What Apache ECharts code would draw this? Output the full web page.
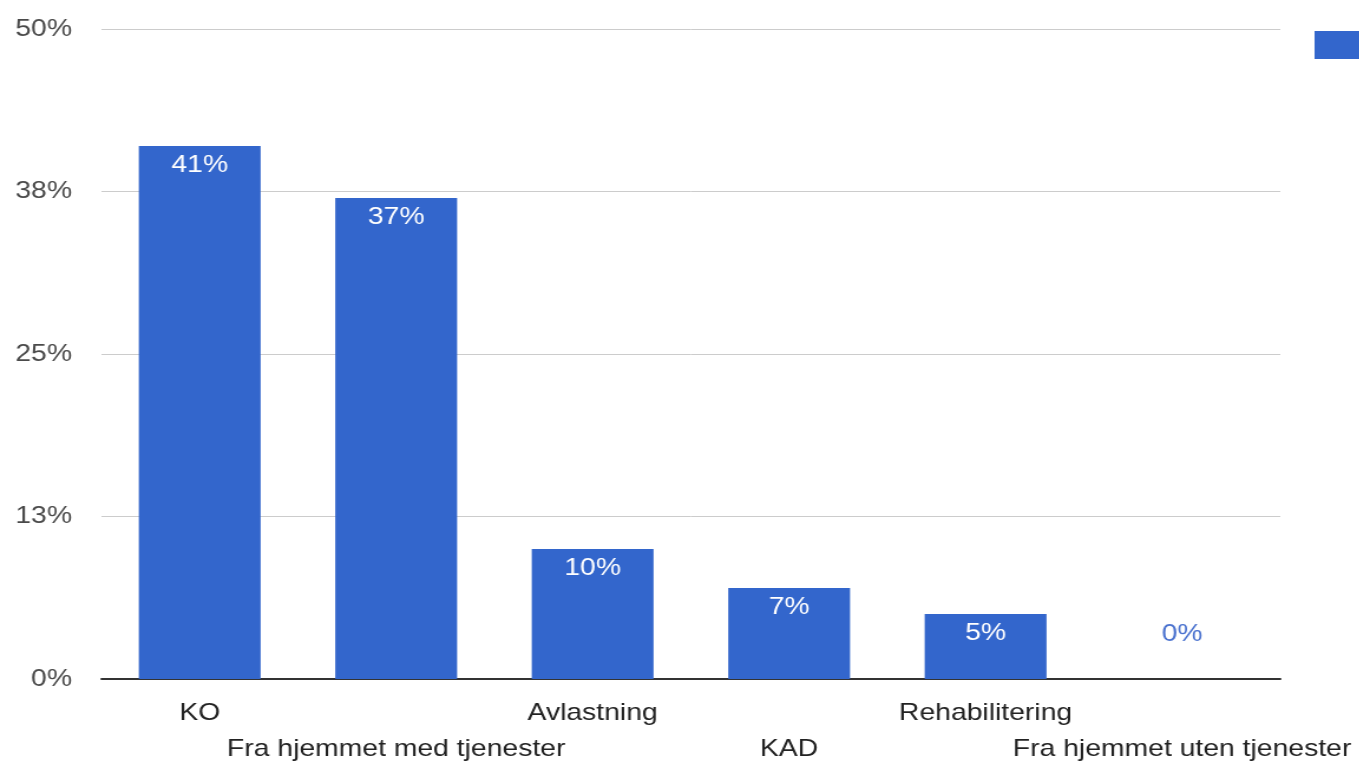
<!DOCTYPE html>
<html>
<head>
<meta charset="utf-8">
<style>
  html, body { margin: 0; padding: 0; background: #fff; overflow: hidden; }
  /* the chart is laid out narrower and widened to the full page width */
  #chart { width: 1152px; height: 766px; transform: scaleX(1.18); transform-origin: 0 0; }
</style>
<script src="https://cdn.jsdelivr.net/npm/echarts@6/dist/echarts.min.js"></script>
</head>
<body>
<div id="chart"></div>
<script>
// Share of patients by where they came from (percent)
const categories = ['KO', 'Fra hjemmet med tjenester', 'Avlastning', 'KAD', 'Rehabilitering', 'Fra hjemmet uten tjenester'];
const shares = [41, 37, 10, 7, 5, 0];
const yTicks = [0, 12.5, 25, 37.5, 50];

const BLUE = '#3366CC';
const font = '"Liberation Sans", Arial, sans-serif';

const chart = echarts.init(document.getElementById('chart'));
chart.setOption({
  animation: false,
  backgroundColor: '#ffffff',
  grid: { left: 86, right: 67, top: 29, bottom: 87, containLabel: false, outerBoundsMode: 'none' },
  legend: {
    left: 1109, top: 26,
    itemWidth: 60, itemHeight: 28,
    icon: 'rect',
    textStyle: { fontFamily: font, fontSize: 24, color: '#222' },
    data: ['Andel']
  },
  xAxis: {
    type: 'category',
    data: categories,
    axisLine: { show: true, lineStyle: { color: '#333', width: 2 } },
    axisTick: { show: false },
    axisLabel: {
      interval: 0,
      margin: 16,
      fontFamily: font,
      fontSize: 24,
      color: '#222',
      lineHeight: 36,
      formatter: (v, i) => (i % 2 === 1 ? '\n' + v : v)
    }
  },
  yAxis: {
    type: 'value',
    min: yTicks[0],
    max: yTicks[yTicks.length - 1],
    interval: yTicks[1] - yTicks[0],
    axisLine: { show: false },
    axisTick: { show: false },
    splitLine: { lineStyle: { color: '#cccccc', width: 1 } },
    axisLabel: {
      margin: 25,
      fontFamily: font,
      fontSize: 24,
      color: '#4a4a4a',
      formatter: v => Math.round(v) + '%'
    }
  },
  series: [{
    name: 'Andel',
    type: 'bar',
    barWidth: '62%',
    itemStyle: { color: BLUE },
    data: shares.map(v => ({
      value: v,
      label: v > 0
        ? { show: true, position: 'insideTop', distance: 7, color: '#ffffff' }
        : { show: true, position: 'top', distance: 33, color: '#4a72cf' }
    })),
    label: {
      show: true,
      fontFamily: font,
      fontSize: 24,
      formatter: p => p.value + '%'
    }
  }]
});
</script>
</body>
</html>
